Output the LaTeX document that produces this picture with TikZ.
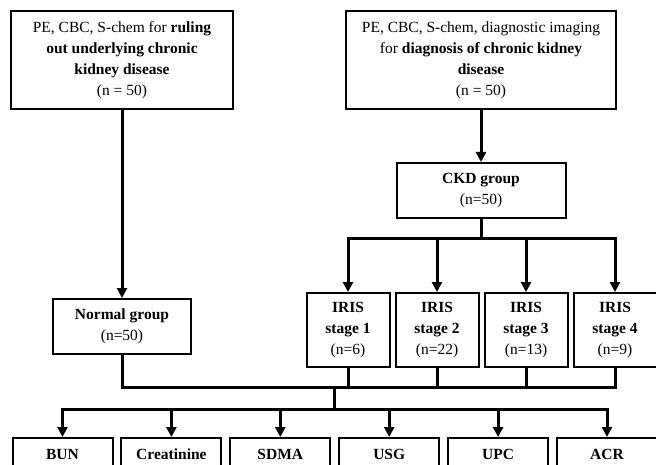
\documentclass[tikz,border=0pt]{standalone}
\usepackage{fontspec}
\setmainfont{Liberation Serif}
\usetikzlibrary{arrows.meta,positioning}

\tikzset{
  box/.style={draw, line width=2pt, align=center, inner sep=3pt,
    font=\fontsize{15.5pt}{21pt}\selectfont},
  stagebox/.style={box, minimum width=83pt, minimum height=74pt},
  testbox/.style={box, minimum width=100pt, text height=11pt, text depth=40pt, inner ysep=10pt},
  link/.style={line width=3pt, line cap=rect},
}

\begin{document}
\begin{tikzpicture}[x=1pt,y=-1pt,node distance=89pt,on grid,>={Triangle[length=10pt,width=10pt]}]
    \useasboundingbox (0,0) rectangle (656,465);

    \node[box, minimum width=222pt, minimum height=98pt] (rule) at (122,60)
        {PE, CBC, S-chem for \textbf{ruling}\\\textbf{out underlying chronic}\\\textbf{kidney disease}\\(n = 50)};
    \node[box, minimum width=270pt, minimum height=98pt] (diag) at (481,60)
        {PE, CBC, S-chem, diagnostic imaging\\for \textbf{diagnosis of chronic kidney}\\\textbf{disease}\\(n = 50)};
    \node[box, minimum width=169pt, minimum height=55pt] (ckd) at (481,190.5)
        {\textbf{CKD group}\\(n=50)};
    \node[box, minimum width=138pt, minimum height=55pt] (normal) at (122,326.5)
        {\textbf{Normal group}\\(n=50)};

    \node[stagebox] (s1) at (348,330) {\textbf{IRIS}\\\textbf{stage 1}\\(n=6)};
    \node[stagebox] [right=of s1] (s2) {\textbf{IRIS}\\\textbf{stage 2}\\(n=22)};
    \node[stagebox] [right=of s2] (s3) {\textbf{IRIS}\\\textbf{stage 3}\\(n=13)};
    \node[stagebox] [right=of s3] (s4) {\textbf{IRIS}\\\textbf{stage 4}\\(n=9)};

    \node[testbox, anchor=north] (t1) at (62.5,437) {\textbf{BUN}};
    \node[testbox] [right=108.9pt of t1] (t2) {\textbf{Creatinine}};
    \node[testbox] [right=108.9pt of t2] (t3) {\textbf{SDMA}};
    \node[testbox] [right=108.9pt of t3] (t4) {\textbf{USG}};
    \node[testbox] [right=108.9pt of t4] (t5) {\textbf{UPC}};
    \node[testbox] [right=108.9pt of t5] (t6) {\textbf{ACR}};

    \coordinate (ckdbar) at (481,239);
    \coordinate (joinbar) at (334,387);
    \coordinate (testbar) at (334,409);

    \path[->, link]
    (rule) edge (normal)
    (diag) edge (ckd)
    ;

    % CKD group to the four stages
    \draw[link] (ckd) -- (ckdbar);
    \draw[link] (s1.north |- ckdbar) -- (s4.north |- ckdbar);
    \foreach \s in {s1,s2,s3,s4}
        \draw[link, ->] (\s.north |- ckdbar) -- (\s.north);

    % all groups to the tests
    \draw[link] (normal.south) |- (s4.south |- joinbar);
    \foreach \s in {s1,s2,s3,s4}
        \draw[link] (\s.south) -- (\s.south |- joinbar);
    \draw[link] (joinbar) -- (testbar);
    \draw[link] (t1.north |- testbar) -- (t6.north |- testbar);
    \foreach \t in {t1,t2,t3,t4,t5,t6}
        \draw[link, ->] (\t.north |- testbar) -- (\t.north);
\end{tikzpicture}
\end{document}
